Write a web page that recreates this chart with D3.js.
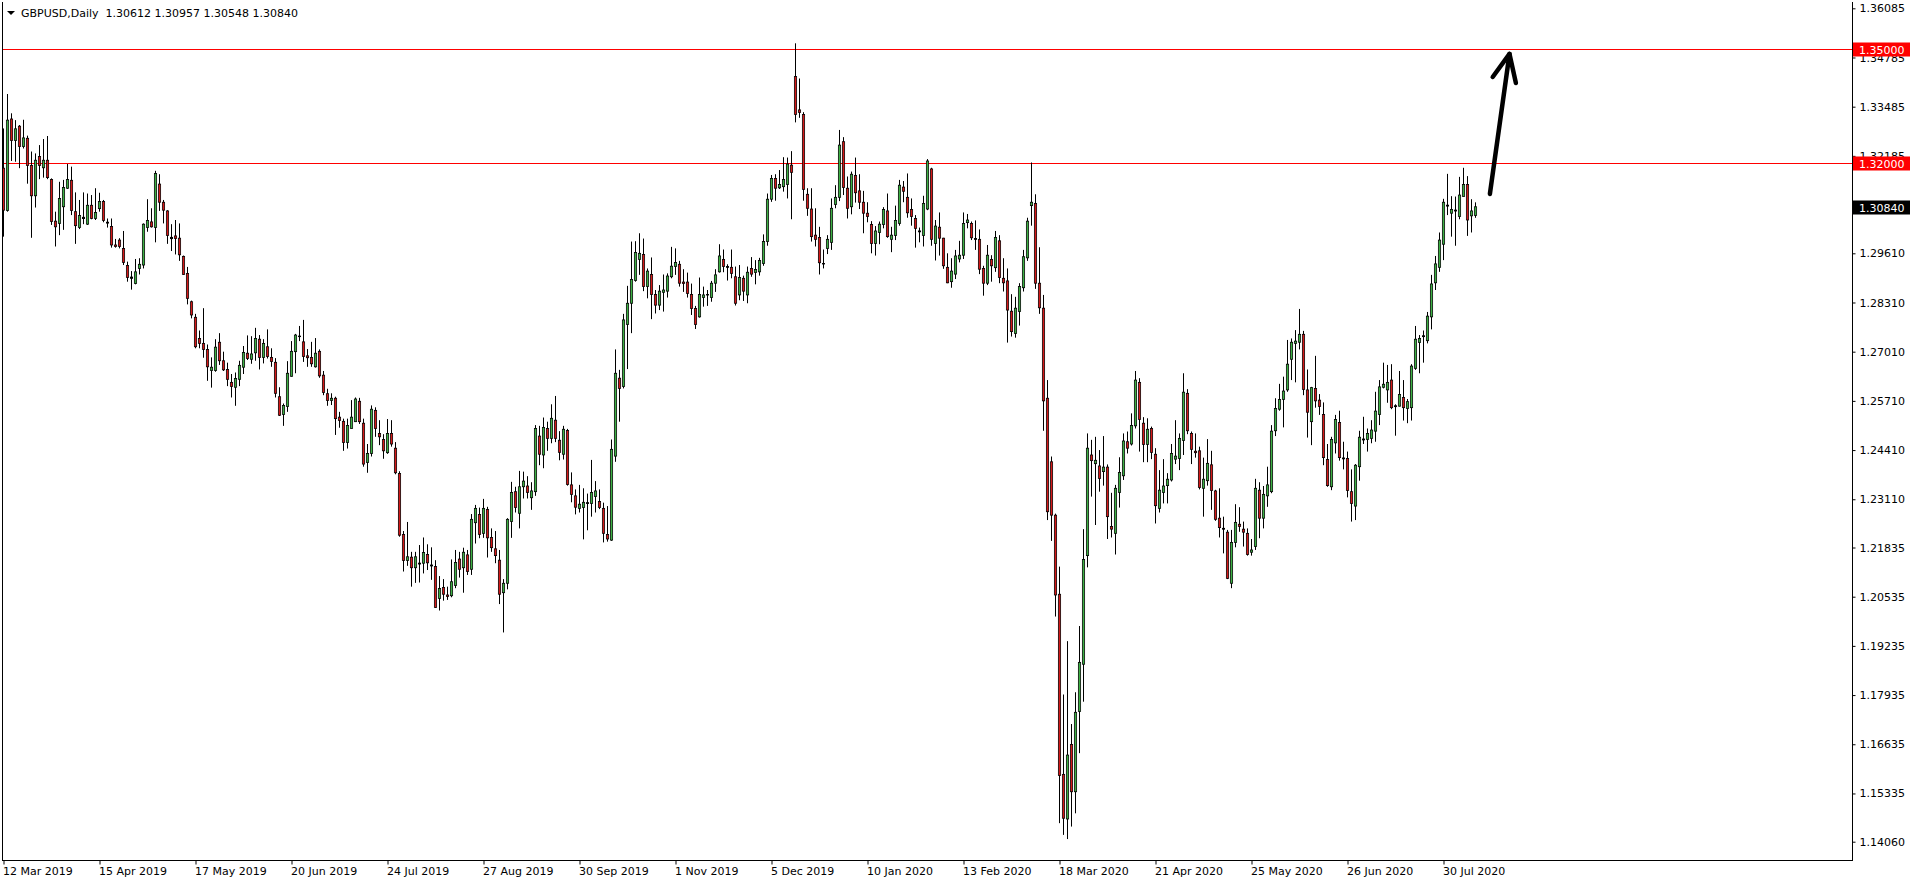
<!DOCTYPE html>
<html>
<head>
<meta charset="utf-8">
<script src="https://cdn.jsdelivr.net/npm/d3@7"></script>
<style>
  html, body { margin: 0; padding: 0; background: #fff; }
  svg { display: block; }
  text { font-family: "DejaVu Sans", Verdana, sans-serif; font-size: 11px; }
</style>
</head>
<body>
<svg id="chart" width="1916" height="884"></svg>
<script>
// ---------------- DATA ----------------
const symbol = "GBPUSD,Daily";

const open = [
1.3186,1.3074,1.3316,1.3259,1.3297,1.3243,1.3265,1.3193,1.3113,1.3217,1.3187,1.3207,1.3156,1.3046,1.3040,1.3084,1.3133,1.3154,1.3071,1.3029,
1.3056,1.3038,1.3088,1.3053,1.3079,1.3098,1.3043,1.3032,1.2983,1.2996,1.2974,1.2929,1.2898,1.2881,1.2921,1.2930,1.3029,1.3044,1.3029,1.3144,
1.3096,1.3073,1.3003,1.3007,1.3001,1.2953,1.2908,1.2833,1.2792,1.2736,1.2723,1.2707,1.2651,1.2651,1.2726,1.2677,1.2654,1.2620,1.2607,1.2628,
1.2660,1.2697,1.2681,1.2698,1.2734,1.2686,1.2714,1.2686,1.2673,1.2582,1.2535,1.2556,1.2636,1.2701,1.2742,1.2727,1.2690,1.2686,1.2661,1.2702,
1.2639,1.2590,1.2572,1.2578,1.2528,1.2517,1.2461,1.2498,1.2516,1.2570,1.2512,1.2408,1.2432,1.2546,1.2485,1.2469,1.2434,1.2485,1.2446,1.2379,
1.2218,1.2149,1.2158,1.2130,1.2142,1.2142,1.2165,1.2137,1.2133,1.2049,1.2078,1.2058,1.2056,1.2083,1.2153,1.2130,1.2164,1.2126,1.2249,1.2271,
1.2221,1.2284,1.2210,1.2180,1.2150,1.2064,1.2089,1.2252,1.2331,1.2274,1.2344,1.2346,1.2315,1.2331,1.2478,1.2428,1.2498,1.2472,1.2520,1.2467,
1.2430,1.2493,1.2349,1.2320,1.2287,1.2289,1.2302,1.2300,1.2318,1.2305,1.2287,1.2218,1.2203,1.2425,1.2631,1.2609,1.2773,1.2829,1.2889,1.2945,
1.2958,1.2873,1.2905,1.2852,1.2824,1.2858,1.2861,1.2899,1.2926,1.2932,1.2885,1.2885,1.2852,1.2815,1.2793,1.2844,1.2851,1.2844,1.2882,1.2912,
1.2945,1.2926,1.2924,1.2899,1.2851,1.2895,1.2851,1.2921,1.2910,1.2912,1.2934,1.2992,1.3104,1.3159,1.3134,1.3137,1.3143,1.3194,1.3428,1.3340,
1.3328,1.3117,1.3078,1.3009,1.3003,1.2934,1.2974,1.2990,1.3090,1.3109,1.3256,1.3133,1.3084,1.3167,1.3126,1.3096,1.3067,1.3037,1.2987,1.3016,
1.3037,1.3073,1.2998,1.3008,1.3040,1.3136,1.3109,1.3077,1.3053,1.3020,1.3008,1.3078,1.3184,1.2987,1.3030,1.3001,1.2924,1.2886,1.2906,1.2946,
1.2956,1.3042,1.3040,1.3000,1.2998,1.2921,1.2882,1.2945,1.2923,1.2994,1.2895,1.2888,1.2808,1.2749,1.2807,1.2870,1.2949,1.3087,1.3093,1.2882,
1.2816,1.2578,1.2410,1.2269,1.2060,1.1584,1.1466,1.1663,1.1538,1.1750,1.1875,1.2162,1.2428,1.2405,1.2399,1.2384,1.2396,1.2239,1.2221,1.2329,
1.2373,1.2463,1.2457,1.2505,1.2620,1.2512,1.2456,1.2498,1.2430,1.2287,1.2329,1.2347,1.2362,1.2417,1.2419,1.2466,1.2591,1.2485,1.2438,1.2439,
1.2340,1.2360,1.2402,1.2333,1.2261,1.2234,1.2224,1.2089,1.2197,1.2245,1.2232,1.2221,1.2171,1.2186,1.2335,1.2261,1.2320,1.2331,1.2492,1.2549,
1.2575,1.2600,1.2681,1.2723,1.2726,1.2747,1.2600,1.2516,1.2604,1.2573,1.2535,1.2416,1.2344,1.2460,1.2514,1.2420,1.2419,1.2331,1.2293,1.2397,
1.2470,1.2469,1.2472,1.2491,1.2535,1.2607,1.2600,1.2626,1.2558,1.2557,1.2580,1.2551,1.2553,1.2657,1.2725,1.2741,1.2730,1.2793,1.2883,1.2924,
1.2985,1.3088,1.3067,1.3075,1.3058,1.3111,1.3143,1.3060,1.30612
];
const high = [
1.3291,1.3382,1.3331,1.3313,1.3300,1.3314,1.3272,1.3230,1.3225,1.3247,1.3263,1.3271,1.3159,1.3071,1.3150,1.3155,1.3197,1.3190,1.3122,1.3102,
1.3122,1.3119,1.3115,1.3133,1.3121,1.3102,1.3053,1.3053,1.2999,1.3001,1.3020,1.2939,1.2914,1.2946,1.2948,1.3040,1.3104,1.3080,1.3179,1.3170,
1.3102,1.3075,1.3038,1.3049,1.3040,1.2955,1.2925,1.2836,1.2801,1.2757,1.2816,1.2720,1.2686,1.2734,1.2750,1.2701,1.2672,1.2642,1.2646,1.2677,
1.2716,1.2744,1.2742,1.2764,1.2745,1.2734,1.2760,1.2710,1.2684,1.2607,1.2564,1.2676,1.2729,1.2748,1.2769,1.2785,1.2708,1.2727,1.2737,1.2707,
1.2650,1.2603,1.2591,1.2582,1.2542,1.2524,1.2524,1.2573,1.2580,1.2579,1.2524,1.2457,1.2559,1.2554,1.2520,1.2483,1.2523,1.2520,1.2462,1.2385,
1.2227,1.2251,1.2172,1.2172,1.2190,1.2210,1.2192,1.2184,1.2150,1.2108,1.2100,1.2080,1.2152,1.2177,1.2172,1.2183,1.2177,1.2272,1.2296,1.2289,
1.2312,1.2291,1.2234,1.2227,1.2177,1.2100,1.2261,1.2357,1.2344,1.2386,1.2384,1.2372,1.2356,1.2507,1.2505,1.2527,1.2516,1.2562,1.2584,1.2491,
1.2505,1.2497,1.2382,1.2337,1.2349,1.2340,1.2326,1.2415,1.2359,1.2337,1.2302,1.2293,1.2469,1.2707,1.2653,1.2801,1.2875,1.2992,1.2993,1.3014,
1.3000,1.2921,1.2950,1.2864,1.2877,1.2905,1.2908,1.2978,1.2974,1.2941,1.2919,1.2910,1.2881,1.2822,1.2897,1.2873,1.2864,1.2888,1.2919,1.2985,
1.2971,1.2932,1.2971,1.2926,1.2930,1.2902,1.2926,1.2951,1.2943,1.2949,1.3011,1.3119,1.3168,1.3170,1.3181,1.3215,1.3214,1.3231,1.3516,1.3423,
1.3334,1.3133,1.3133,1.3080,1.3031,1.2971,1.3009,1.3106,1.3141,1.3287,1.3268,1.3164,1.3177,1.3214,1.3170,1.3126,1.3096,1.3046,1.3033,1.3045,
1.3083,1.3119,1.3031,1.3087,1.3155,1.3152,1.3172,1.3106,1.3062,1.3029,1.3113,1.3210,1.3187,1.3049,1.3069,1.3002,1.2961,1.2948,1.2970,1.2994,
1.3069,1.3065,1.3045,1.3048,1.3024,1.2928,1.2983,1.2956,1.3020,1.3009,1.2948,1.2921,1.2853,1.2846,1.2882,1.2970,1.3055,1.3201,1.3117,1.2977,
1.2851,1.2626,1.2424,1.2273,1.2133,1.1795,1.1936,1.1717,1.1801,1.1976,1.2232,1.2485,1.2468,1.2476,1.2441,1.2478,1.2403,1.2328,1.2349,1.2422,
1.2485,1.2490,1.2538,1.2650,1.2631,1.2528,1.2525,1.2503,1.2446,1.2388,1.2417,1.2380,1.2457,1.2520,1.2485,1.2644,1.2602,1.2490,1.2485,1.2450,
1.2421,1.2470,1.2439,1.2336,1.2340,1.2265,1.2230,1.2230,1.2298,1.2290,1.2252,1.2234,1.2206,1.2365,1.2356,1.2346,1.2397,1.2507,1.2578,1.2616,
1.2635,1.2732,1.2736,1.2758,1.2814,1.2756,1.2654,1.2608,1.2690,1.2589,1.2567,1.2457,1.2476,1.2534,1.2545,1.2463,1.2437,1.2390,1.2404,1.2492,
1.2529,1.2498,1.2520,1.2595,1.2626,1.2672,1.2666,1.2668,1.2562,1.2650,1.2626,1.2576,1.2668,1.2769,1.2745,1.2757,1.2806,1.2904,1.2954,1.3016,
1.3105,1.3171,1.3112,1.3111,1.3163,1.3187,1.3165,1.3104,1.30957
];
const low = [
1.3005,1.3071,1.3205,1.3203,1.3186,1.3238,1.3145,1.3002,1.3082,1.3157,1.3161,1.3157,1.3036,1.2979,1.3009,1.3023,1.3131,1.3062,1.2986,1.3025,
1.3038,1.3036,1.3051,1.3049,1.3071,1.3043,1.3029,1.2976,1.2976,1.2974,1.2930,1.2886,1.2865,1.2879,1.2905,1.2921,1.3018,1.3029,1.2990,1.3073,
1.3040,1.2986,1.2967,1.2958,1.2941,1.2904,1.2826,1.2789,1.2710,1.2710,1.2685,1.2624,1.2606,1.2648,1.2666,1.2650,1.2610,1.2580,1.2558,1.2610,
1.2642,1.2679,1.2669,1.2677,1.2654,1.2670,1.2683,1.2661,1.2580,1.2531,1.2505,1.2542,1.2635,1.2644,1.2729,1.2674,1.2661,1.2661,1.2659,1.2632,
1.2586,1.2558,1.2560,1.2481,1.2500,1.2439,1.2445,1.2498,1.2515,1.2510,1.2397,1.2381,1.2424,1.2476,1.2454,1.2418,1.2431,1.2450,1.2377,1.2212,
1.2120,1.2135,1.2080,1.2090,1.2091,1.2115,1.2124,1.2098,1.2024,1.2017,1.2043,1.2045,1.2052,1.2076,1.2104,1.2064,1.2111,1.2111,1.2194,1.2208,
1.2209,1.2157,1.2172,1.2142,1.2034,1.1959,1.2073,1.2209,1.2276,1.2234,1.2313,1.2313,1.2283,1.2320,1.2401,1.2393,1.2439,1.2459,1.2462,1.2414,
1.2416,1.2347,1.2303,1.2271,1.2276,1.2205,1.2229,1.2265,1.2276,1.2285,1.2197,1.2199,1.2201,1.2410,1.2516,1.2604,1.2655,1.2750,1.2886,1.2904,
1.2861,1.2842,1.2787,1.2802,1.2811,1.2807,1.2844,1.2895,1.2904,1.2873,1.2859,1.2844,1.2798,1.2761,1.2791,1.2820,1.2822,1.2833,1.2859,1.2910,
1.2911,1.2889,1.2895,1.2823,1.2837,1.2835,1.2829,1.2899,1.2879,1.2902,1.2928,1.2981,1.3097,1.3100,1.3131,1.3124,1.3106,1.3051,1.3307,1.3319,
1.3100,1.3060,1.2992,1.2979,1.2905,1.2921,1.2959,1.2970,1.3080,1.3099,1.3115,1.3053,1.3064,1.3095,1.3078,1.3014,1.3043,1.2961,1.2955,1.2985,
1.3027,1.3002,1.2964,1.2996,1.3034,1.3096,1.3055,1.3034,1.2976,1.2990,1.2979,1.3075,1.2981,1.2942,1.2955,1.2920,1.2882,1.2870,1.2893,1.2937,
1.2946,1.3027,1.2996,1.2970,1.2906,1.2849,1.2877,1.2886,1.2912,1.2882,1.2860,1.2725,1.2741,1.2738,1.2770,1.2860,1.2941,1.3034,1.2867,1.2801,
1.2492,1.2256,1.2201,1.2001,1.1455,1.1424,1.1413,1.1446,1.1481,1.1640,1.1776,1.2131,1.2318,1.2243,1.2331,1.2347,1.2206,1.2210,1.2165,1.2289,
1.2362,1.2432,1.2453,1.2498,1.2437,1.2409,1.2409,1.2417,1.2247,1.2276,1.2300,1.2300,1.2358,1.2404,1.2388,1.2428,1.2483,1.2404,1.2421,1.2337,
1.2265,1.2347,1.2283,1.2254,1.2210,1.2168,1.2100,1.2076,1.2184,1.2225,1.2186,1.2162,1.2162,1.2177,1.2208,1.2234,1.2291,1.2327,1.2478,1.2545,
1.2501,1.2595,1.2626,1.2620,1.2707,1.2586,1.2474,1.2454,1.2553,1.2534,1.2401,1.2344,1.2335,1.2432,1.2413,1.2390,1.2316,1.2252,1.2256,1.2360,
1.2457,1.2437,1.2459,1.2463,1.2507,1.2604,1.2566,1.2549,1.2479,1.2556,1.2519,1.2512,1.2519,1.2653,1.2644,1.2672,1.2723,1.2760,1.2864,1.2912,
1.2943,1.3062,1.3005,1.2981,1.3051,1.3111,1.3007,1.3016,1.30548
];
const close = [
1.3075,1.3313,1.3259,1.3290,1.3243,1.3266,1.3193,1.3113,1.3207,1.3193,1.3207,1.3161,1.3045,1.3031,1.3106,1.3135,1.3156,1.3074,1.3034,1.3061,
1.3053,1.3088,1.3053,1.3069,1.3098,1.3048,1.3041,1.2983,1.2979,1.2979,1.2937,1.2897,1.2895,1.2912,1.2932,1.3038,1.3048,1.3031,1.3172,1.3096,
1.3075,1.3008,1.3000,1.3000,1.2957,1.2905,1.2842,1.2798,1.2714,1.2723,1.2707,1.2661,1.2660,1.2713,1.2677,1.2653,1.2628,1.2609,1.2630,1.2665,
1.2699,1.2683,1.2695,1.2736,1.2686,1.2723,1.2688,1.2675,1.2591,1.2533,1.2559,1.2644,1.2702,1.2745,1.2741,1.2688,1.2685,1.2669,1.2697,1.2637,
1.2593,1.2572,1.2578,1.2524,1.2519,1.2461,1.2506,1.2528,1.2576,1.2516,1.2404,1.2432,1.2549,1.2498,1.2476,1.2439,1.2485,1.2457,1.2381,1.2216,
1.2149,1.2159,1.2130,1.2159,1.2140,1.2170,1.2143,1.2135,1.2025,1.2075,1.2060,1.2054,1.2093,1.2144,1.2126,1.2171,1.2120,1.2258,1.2287,1.2218,
1.2287,1.2209,1.2183,1.2162,1.2060,1.2089,1.2258,1.2329,1.2289,1.2344,1.2359,1.2329,1.2333,1.2498,1.2430,1.2501,1.2472,1.2525,1.2472,1.2435,
1.2496,1.2350,1.2324,1.2290,1.2298,1.2303,1.2300,1.2329,1.2333,1.2289,1.2221,1.2206,1.2443,1.2644,1.2604,1.2785,1.2829,1.2892,1.2963,1.2961,
1.2873,1.2914,1.2852,1.2824,1.2861,1.2864,1.2901,1.2927,1.2937,1.2882,1.2881,1.2855,1.2815,1.2773,1.2852,1.2851,1.2852,1.2882,1.2904,1.2954,
1.2926,1.2924,1.2908,1.2829,1.2897,1.2861,1.2911,1.2906,1.2918,1.2942,1.2992,1.3104,1.3159,1.3133,1.3143,1.3156,1.3197,1.3175,1.3328,1.3333,
1.3130,1.3080,1.3005,1.2998,1.2936,1.2933,1.2998,1.3080,1.3109,1.3247,1.3135,1.3080,1.3170,1.3121,1.3096,1.3067,1.3058,1.2987,1.3020,1.3038,
1.3077,1.3005,1.3009,1.3048,1.3141,1.3125,1.3068,1.3058,1.3027,1.3018,1.3093,1.3205,1.2998,1.3033,1.3001,1.2928,1.2883,1.2914,1.2954,1.2956,
1.3040,1.3049,1.3002,1.2998,1.2919,1.2882,1.2956,1.2928,1.3003,1.2897,1.2883,1.2811,1.2754,1.2816,1.2873,1.2952,1.3046,1.3096,1.2882,1.2817,
1.2571,1.2278,1.2269,1.2058,1.1581,1.1468,1.1635,1.1538,1.1748,1.1880,1.2152,1.2446,1.2413,1.2414,1.2366,1.2396,1.2265,1.2232,1.2340,1.2382,
1.2465,1.2446,1.2506,1.2626,1.2522,1.2456,1.2496,1.2435,1.2294,1.2335,1.2346,1.2364,1.2432,1.2425,1.2472,1.2594,1.2492,1.2443,1.2434,1.2342,
1.2364,1.2406,1.2334,1.2258,1.2236,1.2232,1.2102,1.2197,1.2250,1.2239,1.2224,1.2165,1.2177,1.2340,1.2261,1.2324,1.2349,1.2491,1.2551,1.2575,
1.2597,1.2668,1.2726,1.2729,1.2747,1.2601,1.2541,1.2606,1.2571,1.2556,1.2421,1.2347,1.2469,1.2522,1.2421,1.2418,1.2334,1.2300,1.2401,1.2475,
1.2468,1.2485,1.2494,1.2544,1.2608,1.2615,1.2620,1.2553,1.2556,1.2588,1.2553,1.2569,1.2663,1.2734,1.2736,1.2743,1.2795,1.2880,1.2933,1.2996,
1.3096,1.3086,1.3077,1.3073,1.3115,1.3143,1.3049,1.3073,1.30840
];

// x-axis labels and the bar index at which each one sits
const dateLabels = ["12 Mar 2019","15 Apr 2019","17 May 2019","20 Jun 2019","24 Jul 2019","27 Aug 2019",
  "30 Sep 2019","1 Nov 2019","5 Dec 2019","10 Jan 2020","13 Feb 2020","18 Mar 2020","21 Apr 2020",
  "25 May 2020","26 Jun 2020","30 Jul 2020"];
const dateTickBars = [0,24,48,72,96,120,144,168,192,216,240,264,288,312,336,360];

// price-axis labels
const priceTicks = [1.36085,1.34785,1.33485,1.32185,1.30885,1.29610,1.28310,1.27010,1.25710,
  1.24410,1.23110,1.21835,1.20535,1.19235,1.17935,1.16635,1.15335,1.14060];

// horizontal levels drawn on chart
const levels = [1.35000, 1.32000];

// hand-drawn arrow (bar index, price)
const arrowShaft = [[371.6, 1.3118], [376.5, 1.3488]];
const arrowHead  = [[372.3, 1.3427], [376.5, 1.3488], [378.1, 1.3411]];

// ---------------- CHART ----------------
const W = 1916, H = 884;
const plotLeft = 2, plotRight = 1852, plotTop = 2, plotBottom = 860;
const bullColor = "#3cb043", bearColor = "#d41818";

const svg = d3.select("#chart");
svg.append("rect").attr("width", W).attr("height", H).attr("fill", "#fff");

const n = open.length;
const x = d3.scaleLinear().domain([0, n - 1]).range([3.5, 3.5 + 4 * (n - 1)]);
const y = d3.scaleLinear().domain([1.14060, 1.36085]).range([841.7, 8.3]);

const bars = d3.range(n).map(i => ({i, o: open[i], h: high[i], l: low[i], c: close[i]}));

svg.append("clipPath").attr("id", "plotclip")
  .append("rect").attr("x", plotLeft).attr("y", 0).attr("width", plotRight - plotLeft).attr("height", plotBottom);

const plot = svg.append("g").attr("clip-path", "url(#plotclip)");

// level lines
plot.selectAll("line.level").data(levels).join("line")
  .attr("class", "level")
  .attr("x1", plotLeft).attr("x2", plotRight)
  .attr("y1", d => Math.round(y(d)) + 0.5).attr("y2", d => Math.round(y(d)) + 0.5)
  .attr("stroke", "#ff0000").attr("stroke-width", 1);

// wicks
plot.selectAll("line.wick").data(bars).join("line")
  .attr("class", "wick")
  .attr("x1", d => x(d.i)).attr("x2", d => x(d.i))
  .attr("y1", d => y(d.h)).attr("y2", d => y(d.l))
  .attr("stroke", "#000").attr("stroke-width", 1);

// bodies
plot.selectAll("rect.body").data(bars.filter(d => Math.abs(y(d.o) - y(d.c)) >= 1.5)).join("rect")
  .attr("class", "body")
  .attr("x", d => x(d.i) - 1.15)
  .attr("width", 2.3)
  .attr("y", d => y(Math.max(d.o, d.c)))
  .attr("height", d => Math.abs(y(d.o) - y(d.c)))
  .attr("fill", d => d.c >= d.o ? bullColor : bearColor)
  .attr("stroke", "#000").attr("stroke-width", 0.75);

// doji / tiny bodies
plot.selectAll("rect.doji").data(bars.filter(d => Math.abs(y(d.o) - y(d.c)) < 1.5)).join("rect")
  .attr("class", "doji")
  .attr("x", d => x(d.i) - 1.5)
  .attr("width", 3)
  .attr("y", d => Math.min(y(d.o), y(d.c)) - 0.5)
  .attr("height", d => Math.max(1.2, Math.abs(y(d.o) - y(d.c)) + 1))
  .attr("fill", "#000");

// arrow
const arrowLine = d3.line().x(d => x(d[0])).y(d => y(d[1]));
svg.append("path").attr("d", arrowLine(arrowShaft))
  .attr("fill", "none").attr("stroke", "#000").attr("stroke-width", 4.5).attr("stroke-linecap", "round");
svg.append("path").attr("d", arrowLine(arrowHead))
  .attr("fill", "none").attr("stroke", "#000").attr("stroke-width", 4.5)
  .attr("stroke-linecap", "round").attr("stroke-linejoin", "round");

// frame
svg.append("line").attr("x1", plotLeft + 0.5).attr("x2", plotLeft + 0.5).attr("y1", plotTop).attr("y2", plotBottom + 0.5)
  .attr("stroke", "#000");
svg.append("line").attr("x1", plotLeft).attr("x2", plotRight + 1).attr("y1", plotBottom + 0.5).attr("y2", plotBottom + 0.5)
  .attr("stroke", "#000");
svg.append("line").attr("x1", plotRight + 0.5).attr("x2", plotRight + 0.5).attr("y1", plotTop).attr("y2", plotBottom + 0.5)
  .attr("stroke", "#000");

// y axis
const yAxis = d3.axisRight(y).tickValues(priceTicks).tickFormat(d3.format(".5f")).tickSize(3).tickPadding(4);
const gy = svg.append("g").attr("transform", `translate(${plotRight + 0.5},0)`).call(yAxis);
gy.select(".domain").remove();
gy.selectAll(".tick line").attr("stroke", "#000");
gy.selectAll(".tick text").attr("fill", "#000").style("font-family", "DejaVu Sans").style("font-size", "11px");

// x axis
const xAxis = d3.axisBottom(x).tickValues(dateTickBars)
  .tickFormat((d, k) => dateLabels[k]).tickSize(4).tickPadding(3);
const gx = svg.append("g").attr("transform", `translate(0,${plotBottom + 0.5})`).call(xAxis);
gx.select(".domain").remove();
gx.selectAll(".tick line").attr("stroke", "#000");
gx.selectAll(".tick text").attr("fill", "#000").attr("text-anchor", "start").attr("x", -1)
  .style("font-family", "DejaVu Sans").style("font-size", "11px");

// price boxes on the axis (they cover the tick labels beneath, as in the original)
const lastClose = close[n - 1];
const boxes = levels.map(v => ({v, bg: "#ff0000"})).concat([{v: lastClose, bg: "#000"}]);
const gb = svg.append("g");
gb.selectAll("rect").data(boxes).join("rect")
  .attr("x", plotRight + 1).attr("width", 57)
  .attr("y", d => Math.round(y(d.v)) - 6.5).attr("height", 14)
  .attr("fill", d => d.bg);
gb.selectAll("text").data(boxes).join("text")
  .attr("x", plotRight + 7).attr("y", d => Math.round(y(d.v)) + 4.5)
  .attr("fill", "#fff")
  .text(d => d3.format(".5f")(d.v));

// header
svg.append("path").attr("d", "M7,11 L15,11 L11,15 Z").attr("fill", "#000");
svg.append("text").attr("x", 21).attr("y", 16.5).attr("fill", "#000")
  .attr("xml:space", "preserve")
  .text(`${symbol}  ${d3.format(".5f")(open[n-1])} ${d3.format(".5f")(high[n-1])} ${d3.format(".5f")(low[n-1])} ${d3.format(".5f")(close[n-1])}`);
</script>
</body>
</html>
